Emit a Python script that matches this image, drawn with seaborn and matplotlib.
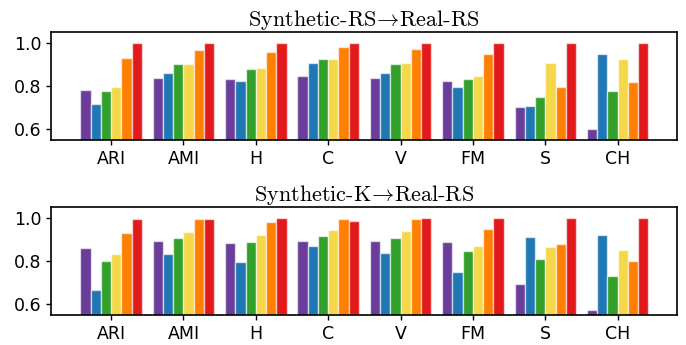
import matplotlib
matplotlib.use("Agg")
import matplotlib.pyplot as plt
import seaborn as sns
import pandas as pd

metrics = ["ARI", "AMI", "H", "C", "V", "FM", "S", "CH"]
methods = ["M1", "M2", "M3", "M4", "M5", "M6"]
colors = ["#6a3d9a", "#1f78b4", "#33a02c", "#f4d84a", "#ff7f00", "#e31a1c"]

# values per method (rows) over metrics (columns)
top_m1 = [0.782, 0.837, 0.832, 0.845, 0.838, 0.825, 0.702, 0.603]
top_m2 = [0.718, 0.862, 0.823, 0.909, 0.863, 0.794, 0.709, 0.951]
top_m3 = [0.778, 0.902, 0.878, 0.928, 0.902, 0.835, 0.749, 0.778]
top_m4 = [0.798, 0.903, 0.882, 0.928, 0.906, 0.849, 0.908, 0.926]
top_m5 = [0.929, 0.969, 0.958, 0.982, 0.971, 0.949, 0.797, 0.817]
top_m6 = [1.000, 1.000, 1.000, 1.000, 1.000, 1.000, 1.000, 1.000]

bot_m1 = [0.862, 0.895, 0.885, 0.895, 0.895, 0.888, 0.693, 0.574]
bot_m2 = [0.667, 0.834, 0.795, 0.871, 0.836, 0.749, 0.913, 0.922]
bot_m3 = [0.803, 0.907, 0.890, 0.919, 0.909, 0.848, 0.808, 0.732]
bot_m4 = [0.834, 0.936, 0.922, 0.943, 0.938, 0.871, 0.865, 0.853]
bot_m5 = [0.932, 0.995, 0.983, 0.998, 0.995, 0.949, 0.881, 0.802]
bot_m6 = [0.997, 0.998, 1.000, 0.988, 1.000, 1.000, 1.000, 1.000]

titles = [r"Synthetic-RS$\!\rightarrow\!$Real-RS", r"Synthetic-K$\!\rightarrow\!$Real-RS"]


def make_df(series):
    rows = []
    for name, vals in zip(methods, series):
        for m, v in zip(metrics, vals):
            rows.append({"metric": m, "method": name, "value": v})
    return pd.DataFrame(rows)


dfs = [make_df([top_m1, top_m2, top_m3, top_m4, top_m5, top_m6]),
       make_df([bot_m1, bot_m2, bot_m3, bot_m4, bot_m5, bot_m6])]

sns.set_style("ticks")
plt.rcParams["font.family"] = ["DejaVu Sans"]
plt.rcParams["mathtext.fontset"] = "cm"
plt.rcParams["text.color"] = "black"
plt.rcParams["axes.edgecolor"] = "black"
plt.rcParams["xtick.color"] = "black"
plt.rcParams["ytick.color"] = "black"
plt.rcParams["axes.labelcolor"] = "black"

fig = plt.figure(figsize=(6.86, 3.45), dpi=100)
W, H = 686, 345
boxes = [(51, 32.3, 677, 140), (51, 207.3, 677, 315)]
for i, (df, box) in enumerate(zip(dfs, boxes)):
    l, t, r, b = box
    ax = fig.add_axes([l / W, 1 - b / H, (r - l) / W, (b - t) / H])
    sns.barplot(data=df, x="metric", y="value", hue="method", order=metrics,
                hue_order=methods, palette=colors, width=0.85, ax=ax,
                saturation=1, edgecolor=(1, 1, 1, 0.6), linewidth=1,
                legend=False, errorbar=None)
    ax.set_ylim(0.55, 1.05)
    ax.set_xlim(-0.83, 7.82)
    ax.set_yticks([0.6, 0.8, 1.0])
    ax.set_xlabel("")
    ax.set_ylabel("")
    ax.tick_params(labelsize=12.5, length=3.5, width=1, colors="black")
    for s in ax.spines.values():
        s.set_visible(True)
        s.set_linewidth(1.2)
        s.set_color("black")
    ax.set_title(titles[i], fontsize=16, family=["cmr10", "DejaVu Sans"],
                 pad=4, color="black")

fig.savefig("out.png", dpi=100)
